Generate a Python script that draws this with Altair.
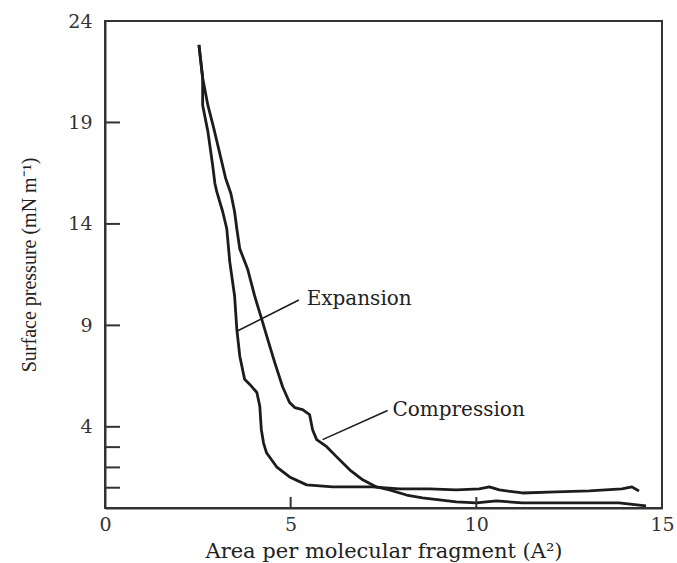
import altair as alt
import pandas as pd

# Surface pressure isotherm: compression and expansion traces
exp_area = [2.53, 2.63, 2.63, 2.77, 2.90, 2.96, 3.01, 3.17, 3.28, 3.36, 3.49, 3.55,
            3.63, 3.76, 3.90, 4.09, 4.17, 4.19, 4.21, 4.27, 4.35, 4.62, 4.97, 5.43,
            6.13, 7.20, 7.93, 8.74, 9.46, 10.08, 10.35, 10.62, 11.24, 12.15, 13.04,
            13.92, 14.19, 14.38]
exp_pressure = [22.82, 21.19, 19.85, 18.56, 16.88, 15.99, 15.59, 14.60, 13.76, 12.13,
                10.45, 8.81, 7.48, 6.34, 6.09, 5.69, 5.00, 4.40, 3.86, 3.20, 2.72, 2.03,
                1.53, 1.14, 1.04, 1.04, 0.94, 0.94, 0.89, 0.94, 1.04, 0.89, 0.74, 0.79,
                0.84, 0.94, 1.04, 0.84]

comp_area = [2.53, 2.63, 2.77, 2.93, 3.09, 3.25, 3.39, 3.49, 3.55, 3.63, 3.84, 4.03,
             4.22, 4.38, 4.57, 4.78, 4.97, 5.11, 5.32, 5.51, 5.59, 5.70, 5.97, 6.24,
             6.59, 6.94, 7.31, 7.66, 8.12, 8.55, 9.46, 10.00, 10.54, 11.24, 12.15,
             13.04, 13.84, 14.57]
comp_pressure = [22.82, 21.19, 19.85, 18.71, 17.48, 16.24, 15.50, 14.60, 13.76, 12.77,
                 11.78, 10.45, 9.31, 8.32, 7.18, 5.99, 5.20, 4.95, 4.85, 4.60, 3.86,
                 3.37, 3.02, 2.52, 1.88, 1.39, 1.04, 0.89, 0.64, 0.50, 0.30, 0.25,
                 0.35, 0.25, 0.25, 0.25, 0.25, 0.10]

# Axis tick values
x_label_values = [0, 5, 10, 15]
y_label_values = [4, 9, 14, 19, 24]
x_tick_values = [5, 10]
y_tick_values = [1, 2, 3, 4, 9, 14, 19]

# Annotations: label text, label anchor, leader line start/end
ann_text = ["Expansion", "Compression"]
ann_x = [5.43, 7.74]
ann_y = [10.30, 4.85]
lead_x1 = [3.55, 5.86]
lead_y1 = [8.71, 3.37]
lead_x2 = [5.22, 7.61]
lead_y2 = [10.25, 4.80]

W, H = 557, 487
SERIF_WIDE = "DejaVu Serif"
SERIF = "Liberation Serif"
INK = "#1c1c1c"

curves = pd.concat([
    pd.DataFrame({"area": exp_area, "pressure": exp_pressure,
                  "run": "Expansion", "idx": range(len(exp_area))}),
    pd.DataFrame({"area": comp_area, "pressure": comp_pressure,
                  "run": "Compression", "idx": range(len(comp_area))}),
])

xs = alt.Scale(domain=[0, 15], nice=False, zero=False)
ys = alt.Scale(domain=[0, 24], nice=False, zero=False)

x_axis = alt.Axis(values=x_label_values, ticks=False, grid=False,
                  domainColor="#333", domainWidth=2,
                  labelFont=SERIF_WIDE, labelFontSize=19, labelColor="#333",
                  labelPadding=7, labelFlush=False,
                  title="Area per molecular fragment (A²)",
                  titleFont=SERIF_WIDE, titleFontSize=21, titleFontWeight="normal",
                  titleColor="#222", titleY=49, titleBaseline="alphabetic")
y_axis = alt.Axis(values=y_label_values, ticks=False, grid=False,
                  domainColor="#333", domainWidth=2,
                  labelFont=SERIF_WIDE, labelFontSize=19, labelColor="#333",
                  labelPadding=13, labelFlush=False,
                  title="Surface pressure (mN m⁻¹)",
                  titleFont=SERIF, titleFontSize=20, titleFontWeight="normal",
                  titleColor="#222", titleX=-76, titleBaseline="middle")

lines = alt.Chart(curves).mark_line(color=INK, strokeWidth=2.8, strokeJoin="round").encode(
    x=alt.X("area:Q", scale=xs, axis=x_axis),
    y=alt.Y("pressure:Q", scale=ys, axis=y_axis),
    detail="run:N",
    order="idx:Q",
)

y_ticks = alt.Chart(pd.DataFrame({"v": y_tick_values})).mark_rule(
    color="#333", strokeWidth=2).encode(
    y=alt.Y("v:Q", scale=ys), x=alt.value(0), x2=alt.value(15))

x_ticks = alt.Chart(pd.DataFrame({"v": x_tick_values})).mark_rule(
    color="#333", strokeWidth=2).encode(
    x=alt.X("v:Q", scale=xs), y=alt.value(H), y2=alt.value(H - 11))

ann = pd.DataFrame({"text": ann_text, "x": ann_x, "y": ann_y,
                    "x1": lead_x1, "y1": lead_y1, "x2": lead_x2, "y2": lead_y2})

leaders = alt.Chart(ann).mark_rule(color=INK, strokeWidth=1.6).encode(
    x=alt.X("x1:Q", scale=xs), y=alt.Y("y1:Q", scale=ys),
    x2="x2:Q", y2="y2:Q")

labels = alt.Chart(ann).mark_text(
    align="left", baseline="middle", font=SERIF_WIDE, fontSize=20, color="#222").encode(
    x=alt.X("x:Q", scale=xs), y=alt.Y("y:Q", scale=ys), text="text:N")

chart = alt.layer(lines, y_ticks, x_ticks, leaders, labels).properties(
    width=W, height=H,
    autosize=alt.AutoSizeParams(type="none"),
    padding={"left": 105, "top": 21, "right": 15, "bottom": 55},
    background="white",
).configure_view(stroke="#333", strokeWidth=2)

chart.save("out.html", embed_options={"renderer": "svg", "actions": False})
